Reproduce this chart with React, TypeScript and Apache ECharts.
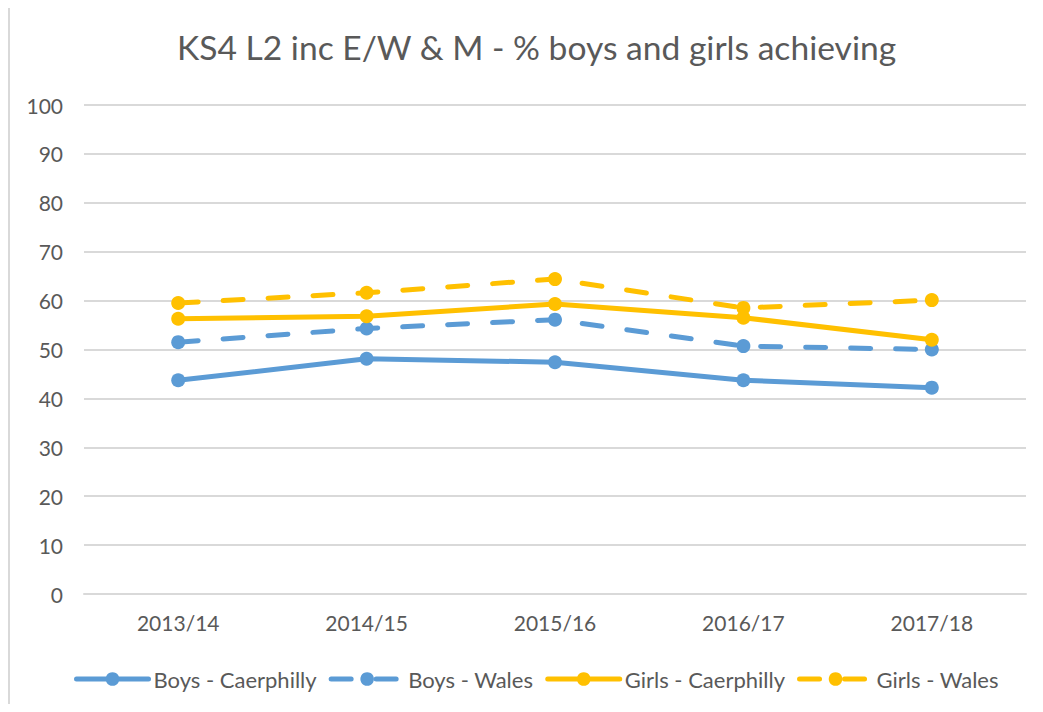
import React, { useEffect, useRef } from "react";
import * as echarts from "echarts";

const categories = ["2013/14", "2014/15", "2015/16", "2016/17", "2017/18"];
const boysCaerphilly = [43.7, 48.1, 47.4, 43.7, 42.2];
const boysWales = [51.5, 54.3, 56.1, 50.7, 50.0];
const girlsCaerphilly = [56.3, 56.8, 59.3, 56.5, 52.0];
const girlsWales = [59.5, 61.6, 64.4, 58.5, 60.1];

const BLUE = "#5B9BD5";
const GOLD = "#FFC000";
const FONT = "Lato, 'Open Sans', sans-serif";

export default function App() {
  const ref = useRef<HTMLDivElement>(null);
  useEffect(() => {
    if (!ref.current) return;
    const chart = echarts.init(ref.current, undefined, { renderer: "svg" });
    const mk = (name: string, data: number[], color: string, dashed: boolean) => ({
      name,
      type: "line",
      data,
      symbol: "circle",
      symbolSize: 14,
      itemStyle: { color },
      lineStyle: { color, width: 5, type: dashed ? [20, 25] : "solid", cap: "round" },
      emphasis: { disabled: true },
    });
    chart.setOption({
      animation: false,
      backgroundColor: "#ffffff",
      textStyle: { fontFamily: FONT },
      title: {
        text: "KS4 L2 inc E/W & M - % boys and girls achieving",
        left: 172,
        top: 25,
        textStyle: { fontFamily: FONT, fontSize: 33.6, fontWeight: "normal", color: "#595959" },
      },
      graphic: [
        {
          type: "polyline",
          z: 100,
          shape: { points: [[9, 712], [9, 7], [1043, 7]] },
          style: { fill: null, stroke: "#D9D9D9", lineWidth: 2 },
          silent: true,
        },
      ],
      legend: {
        top: 663,
        left: 69,
        itemWidth: 72,
        itemHeight: 17,
        itemGap: 12,
        lineStyle: { width: 5 },
        textStyle: { fontFamily: FONT, fontSize: 22, color: "#595959" },
        data: ["Boys - Caerphilly", "Boys - Wales", "Girls - Caerphilly", "Girls - Wales"],
      },
      grid: { left: 84, right: 17, top: 105, bottom: 118, containLabel: false },
      xAxis: {
        type: "category",
        data: categories,
        boundaryGap: true,
        axisLine: { lineStyle: { color: "#D9D9D9", width: 2 } },
        axisTick: { show: false },
        axisLabel: { fontFamily: FONT, fontSize: 21, color: "#595959", margin: 18 },
      },
      yAxis: {
        type: "value",
        min: 0,
        max: 100,
        interval: 10,
        axisLine: { show: false },
        axisTick: { show: false },
        splitLine: { lineStyle: { color: "#D9D9D9", width: 2 } },
        axisLabel: { fontFamily: FONT, fontSize: 21, color: "#595959", margin: 21 },
      },
      series: [
        mk("Boys - Caerphilly", boysCaerphilly, BLUE, false),
        mk("Boys - Wales", boysWales, BLUE, true),
        mk("Girls - Caerphilly", girlsCaerphilly, GOLD, false),
        mk("Girls - Wales", girlsWales, GOLD, true),
      ],
    });
    return () => chart.dispose();
  }, []);
  return <div ref={ref} style={{ width: 1043, height: 712, margin: -8 }} />;
}
